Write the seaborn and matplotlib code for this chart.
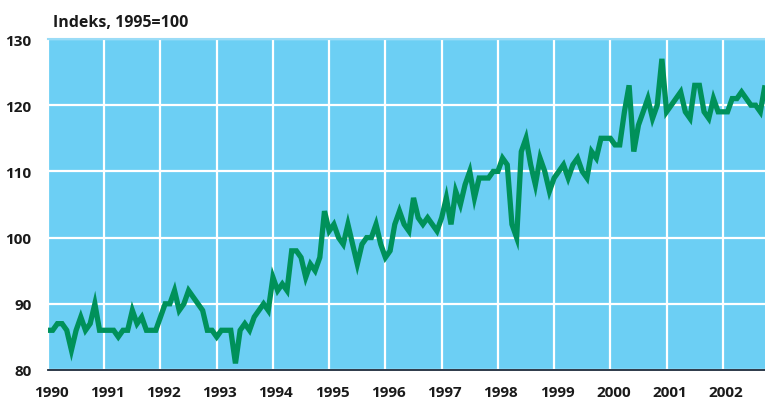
import numpy as np
import pandas as pd
import seaborn as sns
import matplotlib.pyplot as plt
import matplotlib.transforms as mtransforms

# monthly index values, Jan 1990 - Oct 2002
v1990 = [86, 86, 87, 87, 86, 83, 86, 88, 86, 87, 90, 86]
v1991 = [86, 86, 86, 85, 86, 86, 89, 87, 88, 86, 86, 86]
v1992 = [88, 90, 90, 92, 89, 90, 92, 91, 90, 89, 86, 86]
v1993 = [85, 86, 86, 86, 81, 86, 87, 86, 88, 89, 90, 89]
v1994 = [94, 92, 93, 92, 98, 98, 97, 94, 96, 95, 97, 104]
v1995 = [101, 102, 100, 99, 102, 99, 96, 99, 100, 100, 102, 99]
v1996 = [97, 98, 102, 104, 102, 101, 106, 103, 102, 103, 102, 101]
v1997 = [103, 106, 102, 107, 105, 108, 110, 106, 109, 109, 109, 110]
v1998 = [110, 112, 111, 102, 100, 113, 115, 111, 108, 112, 110, 107]
v1999 = [109, 110, 111, 109, 111, 112, 110, 109, 113, 112, 115, 115]
v2000 = [115, 114, 114, 119, 123, 113, 117, 119, 121, 118, 120, 127]
v2001 = [119, 120, 121, 122, 119, 118, 123, 123, 119, 118, 121, 119]
v2002 = [119, 119, 121, 121, 122, 121, 120, 120, 119, 123]

years = list(range(1990, 2003))
yticks = [80, 90, 100, 110, 120, 130]
title = 'Indeks, 1995=100'

values = (v1990 + v1991 + v1992 + v1993 + v1994 + v1995 + v1996 + v1997
          + v1998 + v1999 + v2000 + v2001 + v2002)
t = 1990 + np.arange(len(values)) / 12
df = pd.DataFrame({'t': t, 'indeks': values})

BG = '#6ccff4'
GREEN = '#00915a'

sns.set_style('whitegrid', {'axes.facecolor': BG, 'grid.color': 'white'})
plt.rcParams['font.family'] = ['Open Sans', 'DejaVu Sans']

fig = plt.figure(figsize=(7.65, 4.06), dpi=100)
ax = fig.add_axes([48 / 765, 1 - 371 / 406, 1 - 48 / 765, 331 / 406])

sns.lineplot(data=df, x='t', y='indeks', ax=ax, color=GREEN, linewidth=3.8,
             solid_joinstyle='miter', solid_capstyle='butt')

ax.set_xlim(t[0], t[-1])
ax.set_ylim(80, 130)
ax.set_xticks(years)
ax.set_xticklabels([str(y) for y in years])
ax.set_yticks(yticks)
ax.set_xlabel('')
ax.set_ylabel('')
ax.grid(True, color='white', linewidth=1.6)
ax.set_axisbelow(True)

for s in ['left', 'right']:
    ax.spines[s].set_visible(False)
ax.spines['bottom'].set_color('#1b2a3a')
ax.spines['bottom'].set_linewidth(1.3)
ax.spines['top'].set_color('#9adcf7')
ax.spines['top'].set_linewidth(1.5)

ax.tick_params(axis='both', length=0, labelsize=11, colors='#1a1a1a')
ax.tick_params(axis='x', pad=11)
ax.tick_params(axis='y', pad=12)
shift = mtransforms.ScaledTranslation(3 / 100, 0, fig.dpi_scale_trans)
for lab in ax.get_xticklabels():
    lab.set_fontweight('bold')
    lab.set_transform(lab.get_transform() + shift)
for lab in ax.get_yticklabels():
    lab.set_fontweight('bold')

fig.text(53 / 765, 1 - 23 / 406, title, fontsize=11.5, fontweight='bold',
         color='#1a1a1a', va='center', ha='left')

fig.savefig('out.png', dpi=100)
